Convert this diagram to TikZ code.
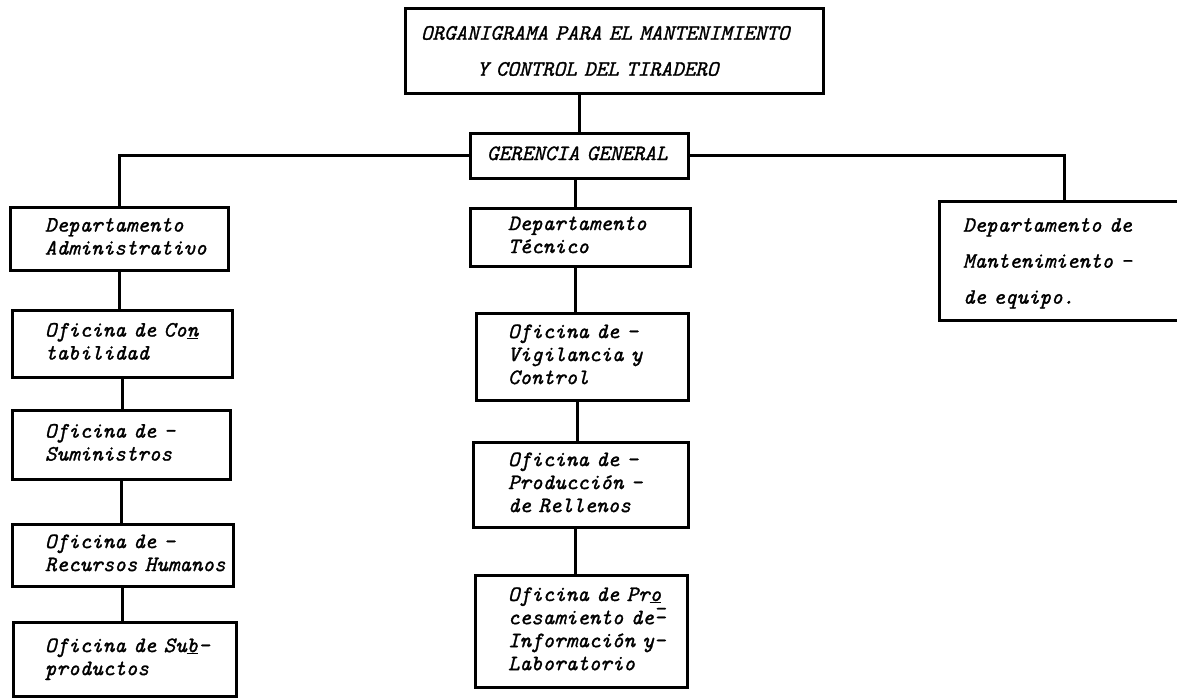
\documentclass[tikz,border=0pt]{standalone}
\usepackage{fontspec}
\newfontfamily\twfont{lmmono10-italic}[Extension=.otf, FakeBold=1.2]
\begin{document}
\begin{tikzpicture}[x=1pt,y=-1pt,
  box/.style={draw, line width=3pt, inner sep=0pt, align=left,
    font=\twfont\fontsize{22}{23}\selectfont},
  wide/.style={font=\twfont\fontsize{22}{36}\selectfont},
  link/.style={line width=3pt}]
\newcommand\obox[8][]{%
  \pgfmathsetmacro\obw{#5-#3}%
  \pgfmathsetmacro\obh{#6-#4}%
  \pgfmathsetmacro\otw{#5-#3-2*(#7-#3)}%
  \pgfmathsetmacro\ocx{(#3+#5)/2}%
  \pgfmathsetmacro\ocy{(#4+#6)/2}%
  \node[box, #1, minimum width=\obw pt, minimum height=\obh pt, text width=\otw pt]
    (#2) at (\ocx,\ocy) {\begin{tabular}{@{}l@{}}#8\end{tabular}};}
\useasboundingbox (0,0) rectangle (1177,697);
\fill[white] (0,0) rectangle (1177,697);
% boxes
\obox[wide]{title}{405}{8}{823}{93}{421}{ORGANIGRAMA PARA EL MANTENIMIENTO\\\hspace*{56pt}Y CONTROL DEL TIRADERO}
\obox{ger}{470}{133}{688}{178}{487}{GERENCIA GENERAL}
\obox{adm}{10}{207}{228}{270}{45}{Departamento\\Administrativo}
\obox{cont}{12}{310}{232}{377}{45}{Oficina de Co\underline{n}\\tabilidad}
\obox{sum}{12}{410}{230}{479}{45}{Oficina de -\\Suministros}
\obox{rec}{12}{524}{233}{586}{45}{Oficina de -\\Recursos Humanos}
\obox{sub}{13}{622}{236}{696}{45}{Oficina de Su\underline{b}-\\productos}
\obox{tec}{470}{208}{690}{266}{508}{Departamento\\Técnico}
\obox{vig}{476}{313}{688}{400}{508}{Oficina de -\\Vigilancia y\\Control}
\obox{pro}{473}{442}{688}{527}{508}{Oficina de -\\Producción -\\de Rellenos}
\obox{lab}{475}{575}{687}{687}{508}{Oficina de Pr\underline{o}\\cesamiento de\makebox[0pt][l]{\raisebox{0.4em}{-}}-\\Información y-\\Laboratorio}
\obox[wide]{man}{939}{201}{1190}{320}{963}{Departamento de\\Mantenimiento -\\de equipo.}
% connectors
\draw[link] (ger.north) -- (ger.north |- title.south);
\draw[link] (ger.west) -| (adm.north);
\draw[link] (ger.east) -| (man.north);
\draw[link] ([xshift=-4pt]ger.south) -- ([xshift=-4pt]ger.south |- tec.north);
\foreach \a/\b in {adm/cont, cont/sum, sum/rec, rec/sub}
  \draw[link] (\a.south) -- (\a.south |- \b.north);
\foreach \a/\b in {tec/vig, vig/pro, pro/lab}
  \draw[link] ([xshift=-5pt]\a.south) -- ([xshift=-5pt]\a.south |- \b.north);
\end{tikzpicture}
\end{document}
